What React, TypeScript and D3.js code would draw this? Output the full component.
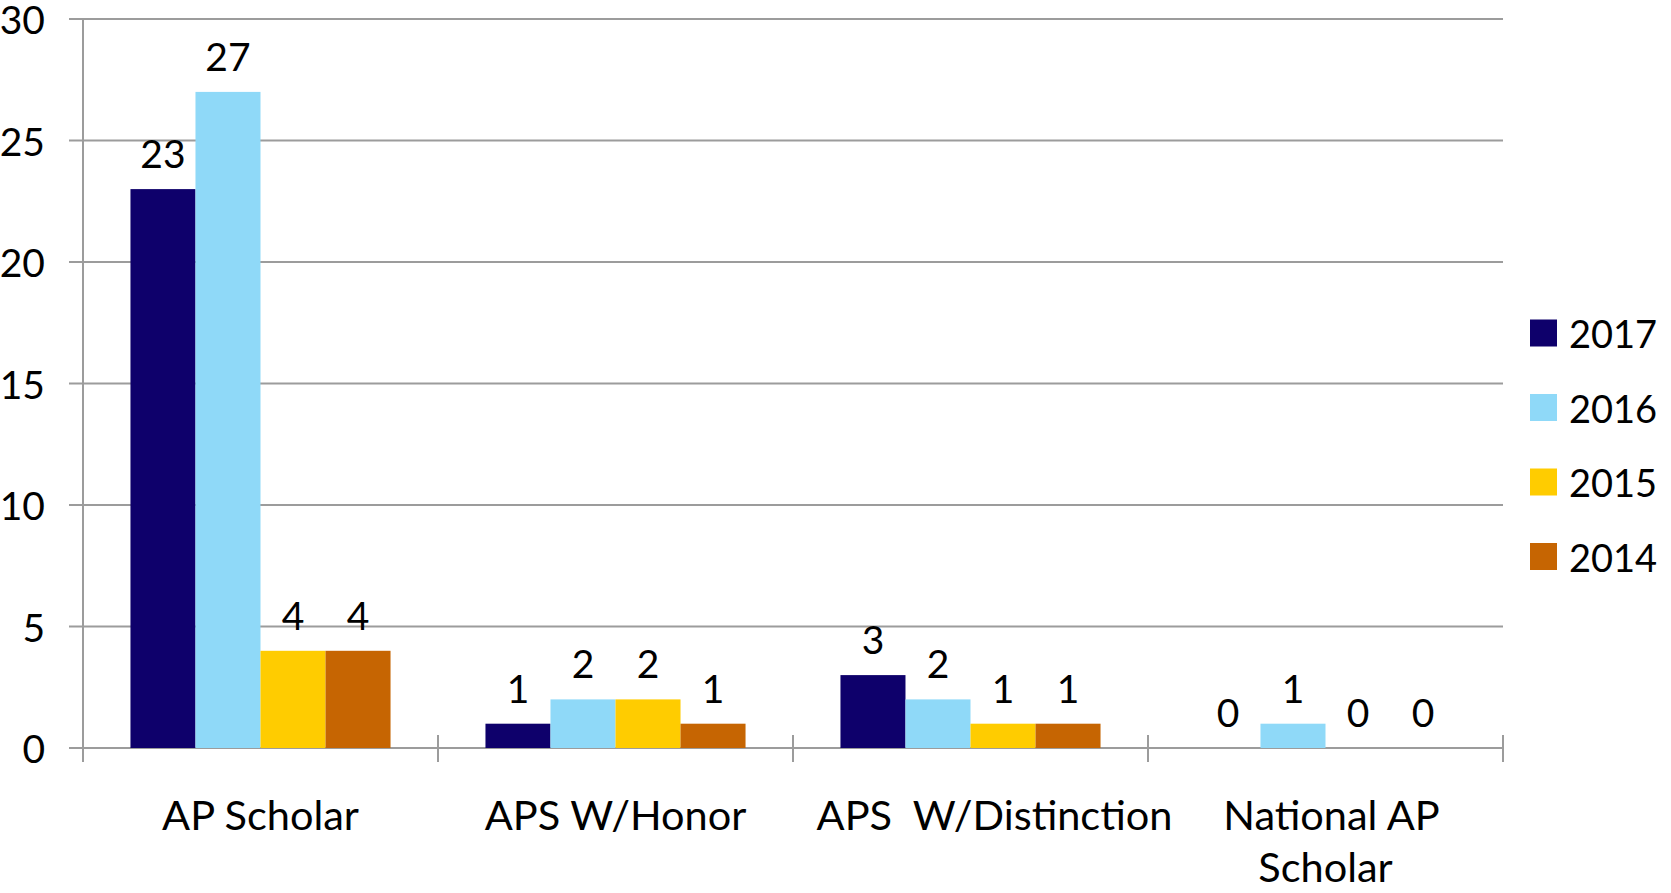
import * as d3 from 'd3';

const groups = ['AP Scholar', 'APS W/Honor', 'APS  W/Distinction', 'National AP Scholar'];
const categoryLabels = [['AP Scholar'], ['APS W/Honor'], ['APS  W/Distinction'], ['National AP', 'Scholar']];
const years = ['2017', '2016', '2015', '2014'];
const colors = ['#0E006B', '#8FD9F8', '#FFCC00', '#C66502'];
const values2017 = [23, 1, 3, 0];
const values2016 = [27, 2, 2, 1];
const values2015 = [4, 2, 1, 0];
const values2014 = [4, 1, 1, 0];
const yTicks = [0, 5, 10, 15, 20, 25, 30];

const seriesValues = [values2017, values2016, values2015, values2014];

export default function App() {
  const width = 1671;
  const height = 893;
  const margin = { top: 19, right: 168, bottom: 145, left: 83 };
  const plotRight = width - margin.right;
  const plotBottom = height - margin.bottom;
  const font = 'Lato, "Open Sans", sans-serif';
  const grid = '#9c9c9c';

  const x0 = d3.scaleBand().domain(groups).range([margin.left, plotRight]).padding(0);
  const x1 = d3.scaleBand().domain(years).range([0, x0.bandwidth()]).paddingInner(0).paddingOuter(0.73);
  const y = d3.scaleLinear().domain([0, 30]).range([plotBottom, margin.top]);

  const boundaries = groups.map((g) => x0(g) as number).concat([plotRight]);
  // Excel nudges some wrapped labels off-centre
  const labelShift = [0, 0, 24, 0];
  const lineShift = [[0], [0], [0], [6, 0]];

  return (
    <svg width={width} height={height} style={{ position: 'absolute', left: 0, top: 0, background: '#fff' }} fontFamily={font}>
      {/* gridlines + y ticks */}
      {yTicks.map((t) => (
        <g key={t}>
          <line x1={margin.left - 14} x2={plotRight} y1={y(t)} y2={y(t)} stroke={grid} strokeWidth={2} />
          <text x={45} y={y(t) + 15} textAnchor="end" fontSize={39} fill="#000">
            {t}
          </text>
        </g>
      ))}
      {/* y axis */}
      <line x1={margin.left} x2={margin.left} y1={margin.top} y2={plotBottom + 14} stroke={grid} strokeWidth={2} />
      {/* category ticks */}
      {boundaries.map((b, i) => (
        <line key={i} x1={b} x2={b} y1={plotBottom - 13} y2={plotBottom + 14} stroke={grid} strokeWidth={2} />
      ))}
      {/* bars */}
      {groups.map((g, gi) => (
        <g key={g} transform={`translate(${x0(g)},0)`}>
          {years.map((yr, si) => {
            const v = seriesValues[si][gi];
            const bx = x1(yr) as number;
            return (
              <g key={yr}>
                <rect x={bx} y={y(v)} width={x1.bandwidth()} height={plotBottom - y(v)} fill={colors[si]} />
                <text x={bx + x1.bandwidth() / 2} y={y(v) - 21} textAnchor="middle" fontSize={39} fill="#000">
                  {v}
                </text>
              </g>
            );
          })}
        </g>
      ))}
      {/* category labels */}
      {groups.map((g, gi) => (
        <text key={g} textAnchor="middle" fontSize={41.5} fill="#000" style={{ whiteSpace: 'pre' }}>
          {categoryLabels[gi].map((line, li) => (
            <tspan
              key={li}
              x={(x0(g) as number) + x0.bandwidth() / 2 + labelShift[gi] + lineShift[gi][li]}
              y={830 + li * 52}
            >
              {line}
            </tspan>
          ))}
        </text>
      ))}
      {/* legend */}
      {years.map((yr, i) => {
        const cy = 333 + i * 74.5;
        return (
          <g key={yr}>
            <rect x={1530} y={cy - 13.5} width={27} height={27} fill={colors[i]} />
            <text x={1569} y={cy} dominantBaseline="central" fontSize={38} fill="#000">
              {yr}
            </text>
          </g>
        );
      })}
    </svg>
  );
}
